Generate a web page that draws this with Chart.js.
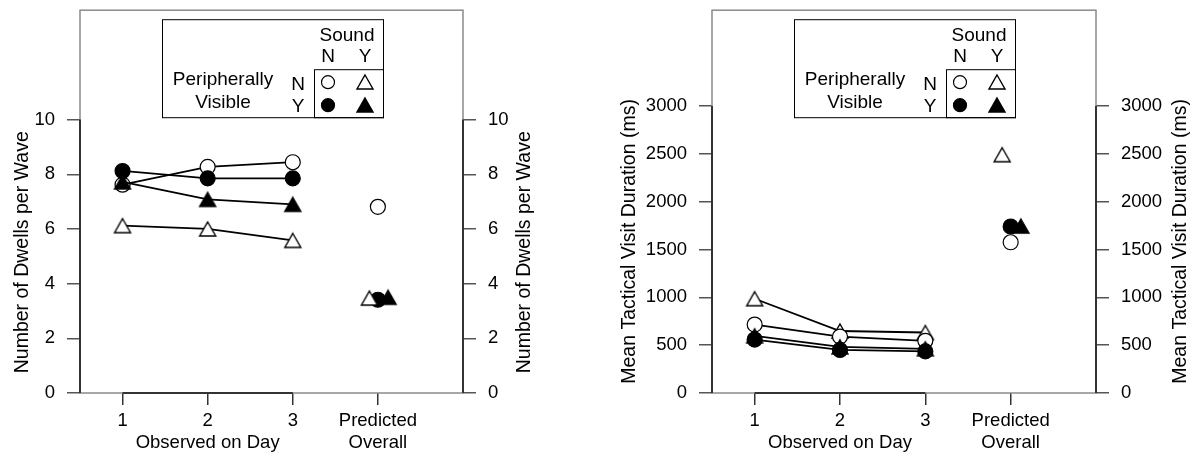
<!DOCTYPE html>
<html>
<head>
<meta charset="utf-8">
<script src="https://cdn.jsdelivr.net/npm/chart.js@4/dist/chart.umd.min.js"></script>
<style>
  html, body { margin: 0; padding: 0; background: #fff; }
  #wrap { position: relative; width: 1195px; height: 460px; }
  canvas { position: absolute; top: 0; }
</style>
</head>
<body>
<div id="wrap">
  <canvas id="dwells" width="597" height="460" style="left:0"></canvas>
  <canvas id="duration" width="598" height="460" style="left:597px"></canvas>
</div>
<script>
// x positions of the observed days and tick labels
const days = [1, 2, 3];
const xTickValues = [1, 2, 3, 4];
const xTickLabels = [['1'], ['2', 'Observed on Day'], ['3'], ['Predicted', 'Overall']];

// order of conditions: open circle (PV N / S N), open triangle (PV N / S Y),
// filled circle (PV Y / S N), filled triangle (PV Y / S Y)

// left panel: number of dwells per wave
const dwellsOpenCircle = [7.62, 8.27, 8.44];
const dwellsOpenTriangle = [6.12, 6.0, 5.58];
const dwellsFilledCircle = [8.12, 7.85, 7.85];
const dwellsFilledTriangle = [7.72, 7.08, 6.9];
const dwellsPredicted = [6.81, 3.47, 3.41, 3.5];
const dwellsPredictedX = [4.0, 3.9, 4.0, 4.12];
const dwellsTicks = [0, 2, 4, 6, 8, 10];

// right panel: mean tactical visit duration (ms)
const durOpenCircle = [715, 590, 545];
const durOpenTriangle = [985, 648, 632];
const durFilledCircle = [558, 450, 435];
const durFilledTriangle = [598, 482, 462];
const durPredicted = [1575, 2490, 1740, 1745];
const durPredictedX = [4.0, 3.9, 4.0, 4.12];
const durTicks = [0, 500, 1000, 1500, 2000, 2500, 3000];

const FONT = "'Liberation Sans', Arial, sans-serif";

// triangle marker image, centred on its bounding box
function triangleImage(fill) {
  const c = document.createElement('canvas');
  c.width = 20; c.height = 18;
  const g = c.getContext('2d');
  g.beginPath();
  g.moveTo(10, 2);
  g.lineTo(18, 16);
  g.lineTo(2, 16);
  g.closePath();
  g.fillStyle = fill;
  g.fill();
  g.lineWidth = 1.4;
  g.lineJoin = 'miter';
  g.strokeStyle = '#000';
  g.stroke();
  return c;
}
const openTri = triangleImage('#fff');
const filledTri = triangleImage('#000');

const marker = [
  { style: 'circle', fill: '#fff', r: 7.5 },
  { style: openTri, fill: '#fff', r: 9 },
  { style: 'circle', fill: '#000', r: 7.5 },
  { style: filledTri, fill: '#000', r: 9 },
];

function lineSet(vals, m) {
  return {
    data: days.map((d, i) => ({ x: d, y: vals[i] })),
    borderColor: '#000',
    borderWidth: 1.8,
    pointStyle: m.style,
    pointRadius: m.r,
    pointBackgroundColor: m.fill,
    pointBorderColor: '#000',
    pointBorderWidth: 1.2,
    showLine: true,
  };
}

function predSet(xs, vals, k) {
  const m = marker[k];
  return {
    data: [{ x: xs[k], y: vals[k] }],
    showLine: false,
    pointStyle: m.style,
    pointRadius: m.r,
    pointBackgroundColor: m.fill,
    pointBorderColor: '#000',
    pointBorderWidth: 1.2,
  };
}

// frame, y titles and the condition key
const decor = {
  id: 'decor',
  beforeDatasetsDraw(chart, args, opts) {
    const { left, right, top, bottom } = chart.chartArea;
    const ctx = chart.ctx;
    const x = chart.scales.x, y = chart.scales.y;
    ctx.save();
    ctx.strokeStyle = '#8a8a8a';
    ctx.lineWidth = 1.5;
    ctx.strokeRect(left, top, right - left, bottom - top);
    ctx.strokeStyle = '#333';
    ctx.lineWidth = 2;
    ctx.beginPath();
    ctx.moveTo(left, y.getPixelForValue(0));
    ctx.lineTo(left, y.getPixelForValue(opts.yTop));
    ctx.moveTo(right, y.getPixelForValue(0));
    ctx.lineTo(right, y.getPixelForValue(opts.yTop));
    ctx.moveTo(x.getPixelForValue(1), bottom);
    ctx.lineTo(x.getPixelForValue(3), bottom);
    ctx.stroke();
    ctx.restore();
  },
  afterDraw(chart, args, opts) {
    const { left, right, top } = chart.chartArea;
    const ctx = chart.ctx;
    const y = chart.scales.y;
    ctx.save();
    ctx.fillStyle = '#000';
    ctx.font = '19.5px ' + FONT;
    ctx.textAlign = 'center';
    ctx.textBaseline = 'middle';
    const cy = (y.getPixelForValue(0) + y.getPixelForValue(opts.yTop)) / 2 - opts.titleShift;
    [left - opts.titleLeft, right + opts.titleRight].forEach((tx) => {
      ctx.save();
      ctx.translate(tx, cy);
      ctx.rotate(-Math.PI / 2);
      ctx.fillText(opts.title, 0, 0);
      ctx.restore();
    });

    // key box
    const L = left, T = top;
    ctx.font = '19px ' + FONT;
    ctx.fillStyle = '#fff';
    ctx.fillRect(L + 82, T + 9, 221, 98);
    ctx.strokeStyle = '#000';
    ctx.lineWidth = 1;
    ctx.strokeRect(L + 82.5, T + 9.5, 221, 98);
    ctx.strokeRect(L + 234.5, T + 59.5, 69, 48);
    ctx.fillStyle = '#000';
    ctx.fillText('Sound', L + 267, T + 26);
    ctx.fillText('N', L + 248, T + 47);
    ctx.fillText('Y', L + 285, T + 47);
    ctx.fillText('N', L + 218, T + 75);
    ctx.fillText('Y', L + 218, T + 97);
    ctx.fillText('Peripherally', L + 143, T + 70);
    ctx.fillText('Visible', L + 143, T + 93);
    const pos = [[248, 72], [285, 72], [248, 95], [285, 95]];
    pos.forEach(([px, py], k) => {
      const m = marker[k];
      if (m.style === 'circle') {
        ctx.beginPath();
        ctx.arc(L + px, T + py, 6.5, 0, Math.PI * 2);
        ctx.fillStyle = m.fill;
        ctx.fill();
        ctx.lineWidth = 1.2;
        ctx.strokeStyle = '#000';
        ctx.stroke();
      } else {
        ctx.drawImage(m.style, Math.round(L + px - 10), Math.round(T + py - 9));
      }
    });
    ctx.restore();
  }
};

function makeChart(id, series, predX, pred, yMax, yTicks, leftW, rightW, opts) {
  const tickFont = { family: FONT, size: 18.5 };
  const yScale = (position) => ({
    type: 'linear',
    position,
    min: 0,
    max: yMax,
    afterBuildTicks: (s) => { s.ticks = yTicks.map(v => ({ value: v })); },
    afterFit: (s) => {
      s.width = position === 'left' ? leftW : rightW;
      s.paddingTop = 0;
      s.paddingBottom = 0;
    },
    grid: { drawOnChartArea: false, tickLength: 13, color: '#555', lineWidth: 1.5 },
    border: { display: false },
    ticks: { color: '#000', font: tickFont, padding: 12, callback: (v) => String(v) },
  });
  const datasets = series.map((vals, k) => lineSet(vals, marker[k]));
  for (let k = 0; k < 4; k++) datasets.push(predSet(predX, pred, k));
  // draw order: open triangle, open circle, filled circle, filled triangle
  datasets[0].order = 3; datasets[1].order = 4; datasets[2].order = 2; datasets[3].order = 1;
  return new Chart(document.getElementById(id), {
    type: 'scatter',
    data: { datasets },
    options: {
      responsive: false,
      animation: false,
      layout: { padding: { top: 8, left: 0, right: 0, bottom: 0 } },
      plugins: { legend: { display: false }, tooltip: { enabled: false }, decor: opts },
      scales: {
        x: {
          type: 'linear',
          min: 0.5,
          max: 5,
          afterBuildTicks: (s) => { s.ticks = xTickValues.map(v => ({ value: v })); },
          afterFit: (s) => { s.height = 67; s.paddingLeft = 0; s.paddingRight = 0; },
          grid: { drawOnChartArea: false, tickLength: 12, color: '#333', lineWidth: 1.5 },
          border: { display: false },
          ticks: {
            color: '#000',
            font: { family: FONT, size: 18.5, lineHeight: 1.2 },
            padding: 5,
            maxRotation: 0,
            autoSkip: false,
            callback: (v) => xTickLabels[xTickValues.indexOf(v)],
          },
        },
        y: yScale('left'),
        y2: yScale('right'),
      },
    },
    plugins: [decor],
  });
}

makeChart('dwells',
  [dwellsOpenCircle, dwellsOpenTriangle, dwellsFilledCircle, dwellsFilledTriangle],
  dwellsPredictedX, dwellsPredicted, 14, dwellsTicks, 80, 134,
  { title: 'Number of Dwells per Wave', titleLeft: 57, titleRight: 62, yTop: 10, titleShift: 4 });

makeChart('duration',
  [durOpenCircle, durOpenTriangle, durFilledCircle, durFilledTriangle],
  durPredictedX, durPredicted, 4000, durTicks, 115, 99,
  { title: 'Mean Tactical Visit Duration (ms)', titleLeft: 82, titleRight: 85, yTop: 3000, titleShift: 8 });
</script>
</body>
</html>
